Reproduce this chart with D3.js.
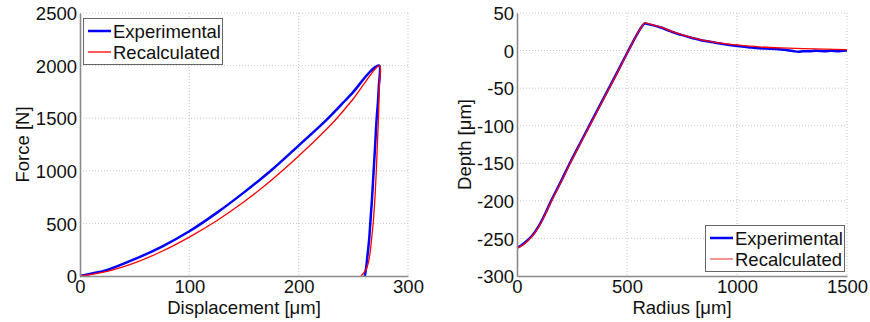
<!DOCTYPE html>
<html>
<head>
<meta charset="utf-8">
<script src="https://cdn.jsdelivr.net/npm/d3@7"></script>
<style>
body { margin: 0; background: #fff; }
svg { font-family: Arial, "Liberation Sans", sans-serif; }
</style>
</head>
<body>
<script>
// left panel: force vs displacement
var dispTicks = [0, 100, 200, 300];
var forceTicks = [0, 500, 1000, 1500, 2000, 2500];
var expDisp = [0, 10, 25, 50, 75, 100, 125, 150, 175, 200, 225, 240, 250, 260, 266, 270, 273.7,
	273.3, 272.5, 271.3, 270, 268.5, 267, 265.5, 264.5, 263, 261.5, 260.5];
var expForce = [0, 22, 58, 160, 280, 425, 600, 795, 1005, 1240, 1480, 1640, 1750, 1880, 1950, 1985, 2000,
	1800, 1650, 1490, 1250, 985, 720, 500, 350, 200, 63, 0];
var recDisp = [0, 25, 50, 75, 100, 125, 150, 175, 200, 225, 235, 250, 274,
	273.7, 273, 272, 271, 269.8, 268.3, 266.8, 265.3, 263.8, 262, 259.5, 257];
var recForce = [0, 45, 125, 235, 370, 525, 705, 910, 1140, 1390, 1500, 1685, 2000,
	1800, 1500, 1250, 1000, 750, 520, 360, 220, 130, 70, 30, 0];

// right panel: depth vs radius
var radiusTicks = [0, 500, 1000, 1500];
var depthTicks = [-300, -250, -200, -150, -100, -50, 0, 50];
var expRadius = [0, 10, 25, 50, 75, 100, 125, 155, 200, 240, 300, 350, 400, 450, 500, 550, 570, 580, 590,
	620, 650, 700, 750, 800, 850, 900, 950, 1000, 1050, 1100, 1150, 1200, 1230, 1260, 1280, 1300,
	1330, 1360, 1400, 1430, 1460, 1480, 1500];
var expDepth = [-262, -261, -258, -252, -244, -233, -219, -200, -174, -150, -116, -88, -60, -32, -3.5, 24, 33, 36, 35.5,
	33.5, 31, 25.5, 20.5, 16.5, 13, 10.5, 8, 6, 4.5, 3, 2.5, 1.5, 0.5, -1, -1.5, -0.8,
	-1, -0.3, -0.8, -0.2, -0.9, -0.3, 0];
var recRadius = [0, 25, 50, 75, 100, 125, 155, 200, 240, 300, 350, 400, 450, 500, 550, 570, 580, 590,
	620, 650, 700, 750, 800, 850, 900, 950, 1000, 1100, 1200, 1300, 1400, 1500];
var recDepth = [-263, -259, -253, -245, -234, -220, -201, -175, -151, -117, -89, -61, -33, -4, 24, 33, 37, 36.5,
	34, 31.5, 26, 21, 17, 13.5, 11, 9, 7.5, 5, 3.5, 2.5, 1.8, 1.2];

var seriesNames = ['Experimental', 'Recalculated'];

var svg = d3.select('body')
	.append('svg')
	.attr('width', 870)
	.attr('height', 322);

var fs = 18.5;

function zip(xs, ys) {
	return xs.map(function(x, i) { return [x, ys[i]]; });
}

function panel(opt) {
	var x = d3.scaleLinear().domain(opt.xDomain).range([opt.left, opt.right]);
	var y = d3.scaleLinear().domain(opt.yDomain).range([opt.bottom, opt.top]);
	var g = svg.append('g');

	// dotted grid
	g.selectAll('line.gx')
		.data(opt.xTicks.slice(1))
		.enter().append('line')
		.attr('x1', function(d) { return x(d); })
		.attr('x2', function(d) { return x(d); })
		.attr('y1', opt.top).attr('y2', opt.bottom)
		.attr('stroke', '#c8c8c8').attr('stroke-dasharray', '1,2');
	g.selectAll('line.gy')
		.data(opt.yTicks.slice(1))
		.enter().append('line')
		.attr('y1', function(d) { return y(d); })
		.attr('y2', function(d) { return y(d); })
		.attr('x1', opt.left).attr('x2', opt.right)
		.attr('stroke', '#c8c8c8').attr('stroke-dasharray', '1,2');

	var line = d3.line()
		.curve(d3.curveCatmullRom.alpha(0.5))
		.x(function(d) { return x(d[0]); })
		.y(function(d) { return y(d[1]); });

	g.append('path')
		.attr('d', line(opt.exp))
		.attr('fill', 'none').attr('stroke', '#0000ff').attr('stroke-width', 2.5)
		.attr('stroke-linejoin', 'round');
	g.append('path')
		.attr('d', line(opt.rec))
		.attr('fill', 'none').attr('stroke', '#ff0000').attr('stroke-width', 1.3)
		.attr('stroke-linejoin', 'round');

	// axes (left + bottom only)
	var fmt = function(d) { return String(d); };
	var xAxis = g.append('g')
		.attr('transform', 'translate(0,' + opt.bottom + ')')
		.call(d3.axisBottom(x).tickValues(opt.xTicks).tickFormat(fmt).tickSize(0).tickPadding(4));
	var yAxis = g.append('g')
		.attr('transform', 'translate(' + opt.left + ',0)')
		.call(d3.axisLeft(y).tickValues(opt.yTicks).tickFormat(fmt).tickSize(0).tickPadding(3));
	[xAxis, yAxis].forEach(function(a) {
		a.select('.domain').attr('stroke', '#8a8a8a').attr('stroke-width', 1.6);
		a.selectAll('text').attr('font-size', fs).attr('fill', '#111')
			.attr('font-family', 'Arial, "Liberation Sans", sans-serif');
	});
	yAxis.selectAll('text').attr('dy', '0.36em');

	g.append('text')
		.attr('x', (opt.left + opt.right) / 2).attr('y', 314)
		.attr('text-anchor', 'middle').attr('font-size', fs).attr('fill', '#111')
		.text(opt.xLabel);
	g.append('text')
		.attr('transform', 'translate(' + opt.yLabelX + ',' + (opt.top + opt.bottom) / 2 + ') rotate(-90)')
		.attr('text-anchor', 'middle').attr('font-size', fs).attr('fill', '#111')
		.text(opt.yLabel);

	// legend
	var lg = g.append('g').attr('transform', 'translate(' + opt.legend[0] + ',' + opt.legend[1] + ')');
	lg.append('rect')
		.attr('x', 0.5).attr('y', 0.5).attr('width', opt.legend[2]).attr('height', 46)
		.attr('fill', '#fff').attr('stroke', '#666');
	var cols = ['#0000ff', opt.legendRed];
	var wid = [2.5, 1.3];
	seriesNames.forEach(function(name, i) {
		var yy = 13 + i * 21;
		lg.append('line')
			.attr('x1', 5).attr('x2', 28).attr('y1', yy).attr('y2', yy)
			.attr('stroke', cols[i]).attr('stroke-width', wid[i]);
		lg.append('text')
			.attr('x', 30).attr('y', yy + 6.5)
			.attr('font-size', fs).attr('fill', '#111')
			.text(name);
	});
}

panel({
	left: 80, right: 408, top: 13, bottom: 276,
	xDomain: [0, 300], yDomain: [0, 2500],
	xTicks: dispTicks, yTicks: forceTicks,
	exp: zip(expDisp, expForce), rec: zip(recDisp, recForce),
	xLabel: 'Displacement [\u03bcm]', yLabel: 'Force [N]', yLabelX: 29,
	legend: [83, 18, 139], legendRed: '#ff0000'
});

panel({
	left: 517, right: 847, top: 13, bottom: 276,
	xDomain: [0, 1500], yDomain: [-300, 50],
	xTicks: radiusTicks, yTicks: depthTicks,
	exp: zip(expRadius, expDepth), rec: zip(recRadius, recDepth),
	xLabel: 'Radius [\u03bcm]', yLabel: 'Depth [\u03bcm]', yLabelX: 471,
	legend: [705, 225, 139], legendRed: '#e85a5a'
});
</script>
</body>
</html>
